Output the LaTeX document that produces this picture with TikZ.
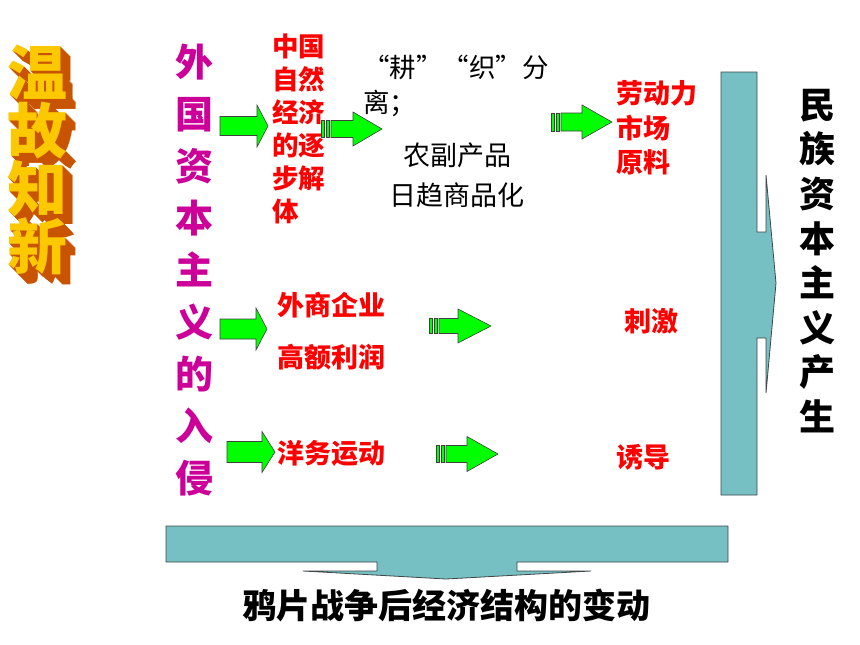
\documentclass[tikz,border=0pt]{standalone}
\usepackage{fontspec}
\setmainfont{Noto Sans CJK SC}
\usepackage{tikz}
\usetikzlibrary{calc}

\definecolor{tealbarfill}{RGB}{118,192,196}
\definecolor{tealbarline}{RGB}{64,72,72}
\definecolor{arrowgreen}{RGB}{0,255,0}
\definecolor{invademag}{RGB}{204,0,153}
\definecolor{titlegold}{RGB}{252,200,0}
\definecolor{titleshade}{RGB}{190,75,0}

\newcommand\zhsize[2]{\fontsize{#1}{#2}\selectfont}

\begin{document}
\begin{tikzpicture}[x = 1pt, y = -1pt,
    titletext/.style = {inner sep = 0, align = center, font = \bfseries\zhsize{60}{58}},
    redtext/.style = {inner sep = 0, align = left, text = red, font = \bfseries\zhsize{27}{34}},
    blacktext/.style = {inner sep = 0, align = left, font = \zhsize{26.5}{35}},
    greenarrow/.style = {fill = arrowgreen, draw = black!75, line width = 0.6pt},
    tealbar/.style = {fill = tealbarfill, draw = tealbarline, line width = 0.8pt}]
    \useasboundingbox [fill = white] (0, 0) rectangle (860, 645);
    % 温故知新
    \foreach \i in {10, 9, ..., 1}
        \node (title-\i) [titletext, text = titleshade!85!orange] at (38 + \i*0.9, 160 + \i*1.0) {温\\故\\知\\新};
    \node (title) [titletext, text = titlegold] at (38, 160) {温\\故\\知\\新};
    % left column
    \node (invade) [inner sep = 0, align = center, text = invademag, font = \bfseries\zhsize{38}{52}] at (194, 270)
        {外\\国\\资\\本\\主\\义\\的\\入\\侵};
    % top row
    \node (natural) [redtext, anchor = west, font = \bfseries\zhsize{26.5}{33}] at (272, 129)
        {中国\\自然\\经济\\的逐\\步解\\体};
    \node (split) [blacktext, anchor = west] at (363, 86) {“耕”“织”分\\离；};
    \node (goods) [blacktext, align = center, font = \zhsize{27}{40}] at (457, 175) {农副产品\\日趋商品化};
    \node (labour) [redtext, anchor = west, font = \bfseries\zhsize{27}{34.5}] at (616, 128) {劳动力\\市场\\原料};
    % middle row
    \node (firms) [redtext, anchor = west] at (277, 305) {外商企业};
    \node (profit) [redtext, anchor = west] at (277, 357) {高额利润};
    \node (spur) [redtext] at (651, 321) {刺激};
    % bottom row
    \node (yangwu) [redtext, anchor = west] at (277, 453) {洋务运动};
    \node (induce) [redtext] at (643, 457) {诱导};
    % plain block arrows
    \foreach \xa/\xb/\xc/\yc/\hb/\hh in {220/257/268/126/9.5/21, 220/256/267/329/10/21, 227/262/275/452/10.5/20.5}
        \filldraw [greenarrow] (\xa, \yc - \hb) -- (\xb, \yc - \hb) -- (\xb, \yc - \hh) -- (\xc, \yc)
            -- (\xb, \yc + \hh) -- (\xb, \yc + \hb) -- (\xa, \yc + \hb) -- cycle;
    % striped block arrows
    \foreach \xs/\xa/\xb/\xc/\yc/\hb/\hh in {321/331/353/382/129/8.5/17, 551/561/582/612/122/9/17,
        429/439/458/491/326/7.5/17, 436/446/467/498/454/8.5/17.5} {
        \filldraw [greenarrow] (\xs, \yc - \hb) rectangle (\xs + 3.5, \yc + \hb);
        \filldraw [greenarrow] (\xs + 5, \yc - \hb) rectangle (\xs + 8.5, \yc + \hb);
        \filldraw [greenarrow] (\xa, \yc - \hb) -- (\xb, \yc - \hb) -- (\xb, \yc - \hh) -- (\xc, \yc)
            -- (\xb, \yc + \hh) -- (\xb, \yc + \hb) -- (\xa, \yc + \hb) -- cycle;
    }
    % right bar
    \filldraw [tealbar] (721, 72) -- (757, 72) -- (757, 232) -- (766, 232) -- (766, 175) -- (776, 283)
        -- (766, 393) -- (766, 338) -- (757, 338) -- (757, 495) -- (721, 495) -- cycle;
    \node (national) [inner sep = 0, align = center, font = \bfseries\zhsize{36}{44.6}] at (817, 261)
        {民\\族\\资\\本\\主\\义\\产\\生};
    % bottom bar
    \filldraw [tealbar] (166, 526) -- (728, 526) -- (728, 562) -- (517, 562) -- (517, 571) -- (591, 571)
        -- (446, 579) -- (303, 571) -- (377, 571) -- (377, 562) -- (166, 562) -- cycle;
    \node (change) [inner sep = 0, font = \bfseries\zhsize{34}{40}] at (446, 605) {鸦片战争后经济结构的变动};
\end{tikzpicture}
\end{document}
